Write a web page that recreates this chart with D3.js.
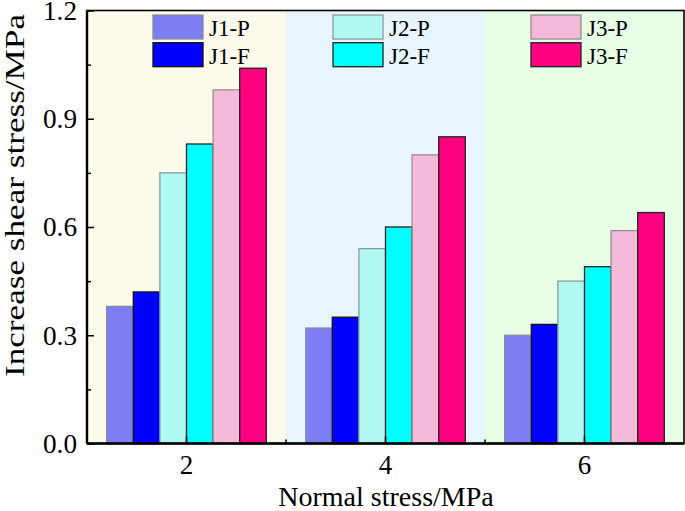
<!DOCTYPE html>
<html>
<head>
<meta charset="utf-8">
<script src="https://cdn.jsdelivr.net/npm/d3@7"></script>
<style>
  html, body { margin: 0; padding: 0; background: #fff; }
  svg { display: block; font-family: "Liberation Serif", "Times New Roman", serif; }
</style>
</head>
<body>
<svg id="chart" width="685" height="511"></svg>
<script>
// ---- data ----
const categories = ["2", "4", "6"];
const seriesNames = ["J1-P", "J1-F", "J2-P", "J2-F", "J3-P", "J3-F"];
const J1P = [0.38, 0.32, 0.30];
const J1F = [0.42, 0.35, 0.33];
const J2P = [0.75, 0.54, 0.45];
const J2F = [0.83, 0.60, 0.49];
const J3P = [0.98, 0.80, 0.59];
const J3F = [1.04, 0.85, 0.64];
const seriesValues = [J1P, J1F, J2P, J2F, J3P, J3F];
const yTicks = [0, 0.3, 0.6, 0.9, 1.2];
const yMinorTicks = [0.15, 0.45, 0.75, 1.05];

// ---- styles ----
const fills = ["#7E7EF4", "#0000FF", "#B2F8F2", "#00FFFF", "#F5BADA", "#FF0080"];
const strokes = ["#8a8a9a", "#111111", "#8a9a9a", "#222222", "#9a8a90", "#222222"];
const bandColors = ["#FCFAEB", "#E9F5FE", "#E6FDE6"];

const svg = d3.select("#chart");
const L = 87, R = 684, T = 10.5, B = 443.5;

const x = d3.scaleBand().domain(categories).range([L, R]).padding(0);
const xi = d3.scaleBand().domain(seriesNames).range([0, x.bandwidth()]).paddingInner(0).paddingOuter(0.74);
const y = d3.scaleLinear().domain([0, 1.2]).range([B, T]);

// background bands
svg.append("g").selectAll("rect").data(categories).join("rect")
  .attr("x", d => x(d)).attr("y", T)
  .attr("width", x.bandwidth()).attr("height", B - T)
  .attr("fill", (d, i) => bandColors[i]);

// bars
const groups = svg.append("g").selectAll("g").data(categories).join("g")
  .attr("transform", d => `translate(${x(d)},0)`);
groups.selectAll("rect")
  .data((c, ci) => seriesNames.map((s, si) => ({ s, si, v: seriesValues[si][ci] })))
  .join("rect")
  .attr("x", d => xi(d.s)).attr("y", d => y(d.v))
  .attr("width", xi.bandwidth()).attr("height", d => y(0) - y(d.v))
  .attr("fill", d => fills[d.si])
  .attr("stroke", d => strokes[d.si])
  .attr("stroke-width", 1.3);

// axes
const yAxis = svg.append("g").attr("transform", `translate(${L},0)`)
  .call(d3.axisLeft(y).tickValues(yTicks).tickFormat(d3.format(".1f")).tickSize(-7).tickPadding(10));
svg.append("g").attr("transform", `translate(${L},0)`)
  .call(d3.axisLeft(y).tickValues(yMinorTicks).tickFormat("").tickSize(-4))
  .call(g => g.select(".domain").remove());
yAxis.selectAll("text")
  .attr("font-size", 28).attr("font-family", "Liberation Serif")
  .attr("fill", "#000")
  .attr("textLength", 34).attr("lengthAdjust", "spacingAndGlyphs");

const xAxis = svg.append("g").attr("transform", `translate(0,${B})`)
  .call(d3.axisBottom(x).tickSize(-7).tickPadding(11));
xAxis.selectAll("text").attr("font-size", 27).attr("font-family", "Liberation Serif").attr("fill", "#000");
// minor x ticks at band boundaries
svg.append("g").selectAll("line").data(categories.slice(1)).join("line")
  .attr("x1", d => x(d)).attr("x2", d => x(d))
  .attr("y1", B).attr("y2", B - 4)
  .attr("stroke", "#000").attr("stroke-width", 1.5);

svg.selectAll(".tick line").attr("stroke", "#000").attr("stroke-width", 1.5);
svg.selectAll(".domain").attr("stroke", "none");

// frame
svg.append("rect").attr("x", L).attr("y", T).attr("width", R - L).attr("height", B - T)
  .attr("fill", "none").attr("stroke", "#000").attr("stroke-width", 1.6);
svg.append("line").attr("x1", L).attr("x2", R).attr("y1", B).attr("y2", B)
  .attr("stroke", "#000").attr("stroke-width", 2.4);
svg.append("line").attr("x1", L).attr("x2", L).attr("y1", T).attr("y2", B)
  .attr("stroke", "#000").attr("stroke-width", 2.4);

// legend
const legCols = [153, 333, 531];
const legRows = [15, 42.7];
const leg = svg.append("g").selectAll("g").data(seriesNames).join("g")
  .attr("transform", (d, i) => `translate(${legCols[Math.floor(i / 2)]},${legRows[i % 2]})`);
leg.append("rect").attr("width", 50).attr("height", 24)
  .attr("fill", (d, i) => fills[i]).attr("stroke", (d, i) => strokes[i]).attr("stroke-width", 1.3);
leg.append("text").attr("x", 56).attr("y", 21).attr("font-size", 23).attr("fill", "#000").text(d => d);

// axis titles
svg.append("text").attr("transform", "translate(24,195.5) rotate(-90)")
  .attr("text-anchor", "middle").attr("font-size", 28)
  .attr("textLength", 363).attr("lengthAdjust", "spacingAndGlyphs")
  .text("Increase shear stress/MPa");
svg.append("text").attr("x", 386).attr("y", 506)
  .attr("text-anchor", "middle").attr("font-size", 28)
  .text("Normal stress/MPa");
</script>
</body>
</html>
